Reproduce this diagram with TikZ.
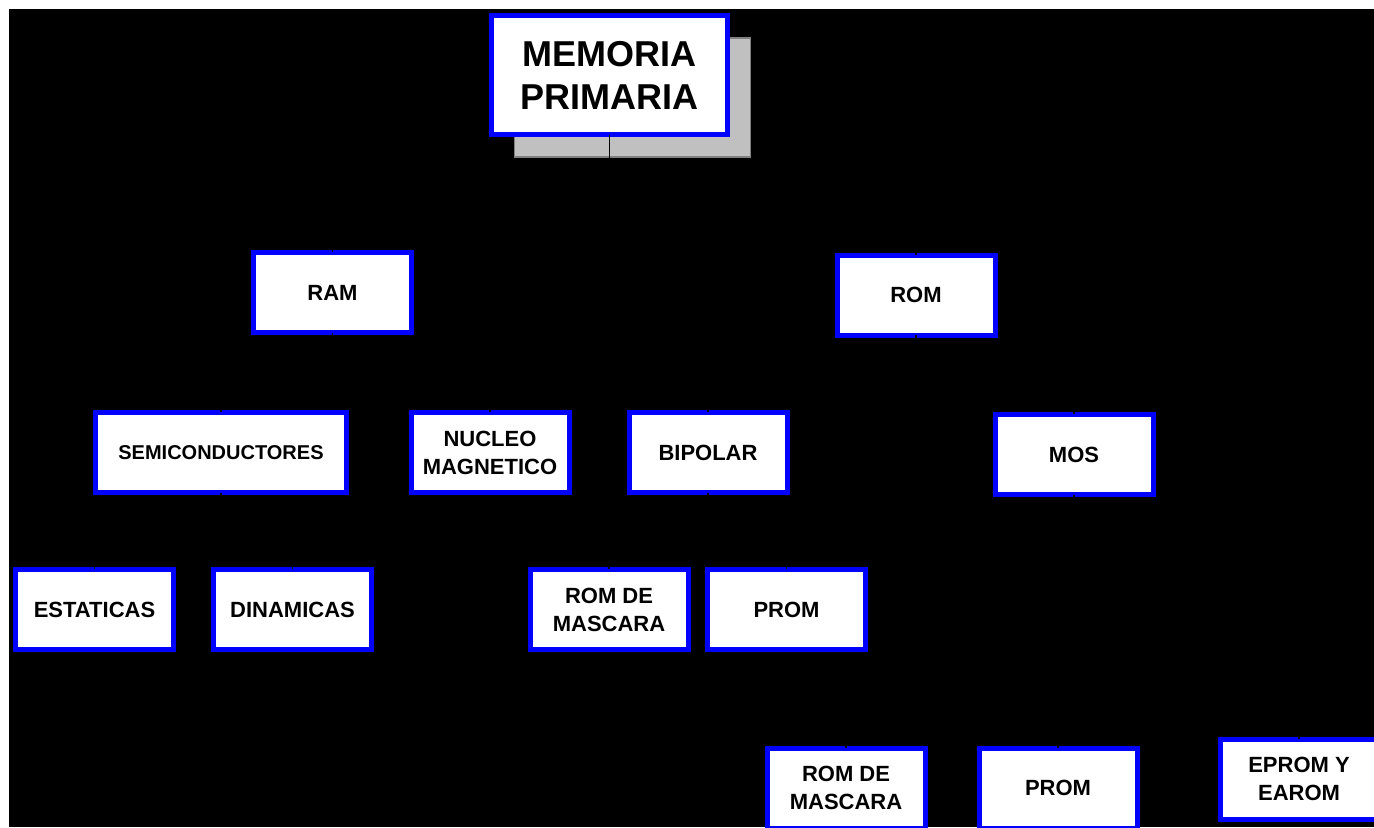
\documentclass[tikz,border=0pt]{standalone}
\usepackage{fontspec}
\setmainfont{Liberation Sans}
\usepackage{xcolor}
\definecolor{azul}{RGB}{0, 0, 255}
\definecolor{grisclaro}{RGB}{192, 192, 192}
\definecolor{grisborde}{RGB}{128, 128, 128}
\usepackage{tikz}
\usetikzlibrary{shadows}

\begin{document}
\begin{tikzpicture}[
    x=0.5pt, y=-0.5pt,
    caja/.style={rectangle, draw=azul, line width=2.5pt, fill=white, align=center,
      minimum width=79pt, minimum height=40pt, inner sep=0pt,
      font=\fontsize{11pt}{14pt}\selectfont\bfseries},
    sombra/.style={drop shadow={shadow xshift=11.5pt, shadow yshift=-11.25pt,
      fill=grisclaro, draw=grisborde, line width=0.6pt, opacity=1}},
    rama/.style={draw=black, line width=0.7pt, shorten <=-1.2pt, shorten >=-1.2pt}
  ]
    \useasboundingbox (0,0) rectangle (1374,827);
    \fill[white] (0,0) rectangle (1374,827);
    \fill[black] (9,9) rectangle (1374,827);

    \node[caja, sombra, minimum width=118pt, minimum height=59.5pt,
      font=\fontsize{18pt}{21.5pt}\selectfont\bfseries] (mem) at (609.5,75) {MEMORIA\\PRIMARIA};

    \node[caja] (ram) at (332.5,292.5) {RAM};
    \node[caja] (rom) at (916,295) {ROM};

    \node[caja, minimum width=125.5pt, font=\fontsize{10pt}{12pt}\selectfont\bfseries] (semi) at (221,452.5) {SEMICONDUCTORES};
    \node[caja] (nucleo) at (490,452.5) {NUCLEO\\MAGNETICO};
    \node[caja] (bipolar) at (708,452.5) {BIPOLAR};
    \node[caja] (mos) at (1074,454.5) {MOS};

    \node[caja] (estat) at (94.5,609.5) {ESTATICAS};
    \node[caja] (dinam) at (292.5,609.5) {DINAMICAS};
    \node[caja] (mascara) at (609,609.5) {ROM DE\\MASCARA};
    \node[caja] (prom) at (786.5,609.5) {PROM};

    \node[caja] (mascarados) at (846,788) {ROM DE\\MASCARA};
    \node[caja] (promdos) at (1058,788) {PROM};
    \node[caja] (eprom) at (1299,779) {EPROM Y\\EAROM};

    \draw[rama] (mem.south) -- ++(0,63) -| (ram.north);
    \draw[rama] (mem.south) -- ++(0,63) -| (rom.north);
    \draw[rama] (ram.south) -- ++(0,40) -| (semi.north);
    \draw[rama] (ram.south) -- ++(0,40) -| (nucleo.north);
    \draw[rama] (rom.south) -- ++(0,38) -| (bipolar.north);
    \draw[rama] (rom.south) -- ++(0,38) -| (mos.north);
    \draw[rama] (semi.south) -- ++(0,35) -| (estat.north);
    \draw[rama] (semi.south) -- ++(0,35) -| (dinam.north);
    \draw[rama] (bipolar.south) -- ++(0,35) -| (mascara.north);
    \draw[rama] (bipolar.south) -- ++(0,35) -| (prom.north);
    \draw[rama] (mos.south) -- ++(0,203) -| (mascarados.north);
    \draw[rama] (mos.south) -- ++(0,203) -| (promdos.north);
    \draw[rama] (mos.south) -- ++(0,203) -| (eprom.north);
  \end{tikzpicture}
\end{document}
